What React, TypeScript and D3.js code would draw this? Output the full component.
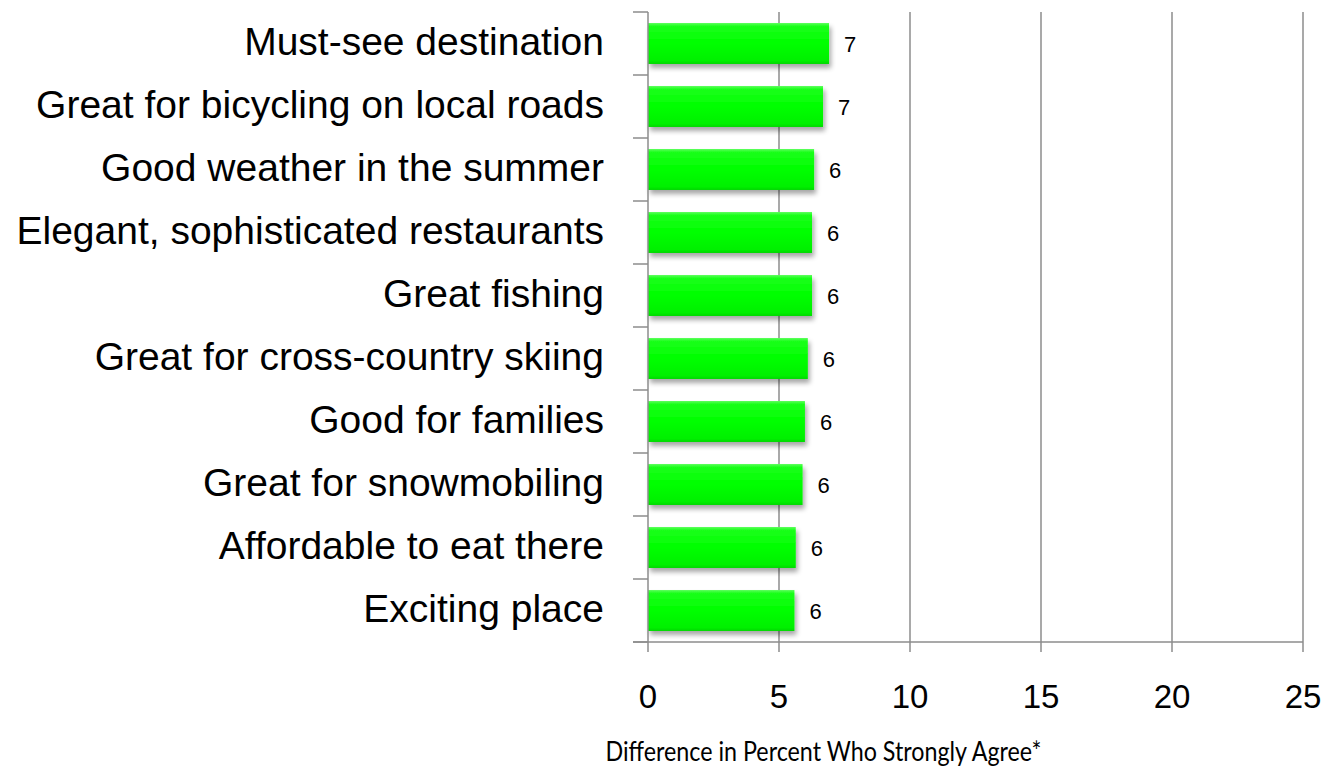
import React from "react";
import * as d3 from "d3";

const categories = [
  "Must-see destination",
  "Great for bicycling on local roads",
  "Good weather in the summer",
  "Elegant, sophisticated restaurants",
  "Great fishing",
  "Great for cross-country skiing",
  "Good for families",
  "Great for snowmobiling",
  "Affordable to eat there",
  "Exciting place",
];
const values = [6.91, 6.68, 6.34, 6.26, 6.26, 6.1, 5.99, 5.9, 5.64, 5.59];
const valueLabels = ["7", "7", "6", "6", "6", "6", "6", "6", "6", "6"];
const xTicks = [0, 5, 10, 15, 20, 25];
const axisTitle = "Difference in Percent Who Strongly Agree*";

const W = 1328;
const H = 770;
const left = 648;
const right = 1303;
const top = 12;
const bottom = 642;

export default function App() {
  const x = d3.scaleLinear().domain([0, 25]).range([left, right]);
  const y = d3
    .scaleBand<string>()
    .domain(categories)
    .range([top, bottom])
    .paddingInner(0.35)
    .paddingOuter(0.175);
  const step = y.step();
  const gridColor = "#8c8c8c";

  return (
    <svg
      width={W}
      height={H}
      style={{ position: "absolute", left: 0, top: 0 }}
      fontFamily="'Liberation Sans', Arial, sans-serif"
    >
      <defs>
        <linearGradient id="barGrad" x1="0" y1="0" x2="0" y2="1">
          <stop offset="0" stopColor="#5cff5c" />
          <stop offset="0.08" stopColor="#1aff1a" />
          <stop offset="0.5" stopColor="#00ff00" />
          <stop offset="0.92" stopColor="#00f000" />
          <stop offset="1" stopColor="#00d800" />
        </linearGradient>
        <filter id="shadow" x="-5%" y="-20%" width="115%" height="160%">
          <feGaussianBlur in="SourceAlpha" stdDeviation="2.5" />
          <feOffset dx="2" dy="4" result="ob" />
          <feComponentTransfer>
            <feFuncA type="linear" slope="0.35" />
          </feComponentTransfer>
          <feMerge>
            <feMergeNode />
            <feMergeNode in="SourceGraphic" />
          </feMerge>
        </filter>
      </defs>
      <rect width={W} height={H} fill="#fff" />
      {/* gridlines */}
      {xTicks.slice(1).map((t) => (
        <line
          key={"g" + t}
          x1={x(t)}
          x2={x(t)}
          y1={top}
          y2={bottom + 10}
          stroke={gridColor}
          strokeWidth={1.5}
        />
      ))}
      {/* bars */}
      {categories.map((c, i) => {
        const cy = y(c)! + y.bandwidth() / 2;
        return (
          <g key={c}>
            <rect
              x={x(0)}
              y={y(c)!}
              width={x(values[i]) - x(0)}
              height={y.bandwidth()}
              fill="url(#barGrad)"
              filter="url(#shadow)"
            />
            <text x={x(values[i]) + 15} y={cy + 8} fontSize={22} fill="#000">
              {valueLabels[i]}
            </text>
            <text x={604} y={cy + 11} textAnchor="end" fontSize={39} fill="#000">
              {c}
            </text>
          </g>
        );
      })}
      {/* y axis */}
      <line x1={left} x2={left} y1={top} y2={bottom + 10} stroke={gridColor} strokeWidth={1.5} />
      {d3.range(categories.length + 1).map((i) => (
        <line
          key={"yt" + i}
          x1={left - 15}
          x2={left}
          y1={top + i * step}
          y2={top + i * step}
          stroke={gridColor}
          strokeWidth={1.5}
        />
      ))}
      {/* x axis */}
      <line x1={left - 15} x2={right} y1={bottom} y2={bottom} stroke={gridColor} strokeWidth={1.5} />
      {xTicks.map((t) => (
        <text key={"xt" + t} x={x(t)} y={708} textAnchor="middle" fontSize={33} fill="#000">
          {t}
        </text>
      ))}
      <text
        x={823.5}
        y={761}
        textAnchor="middle"
        fontSize={27}
        fontFamily="Lato, 'Open Sans', sans-serif"
        textLength={436}
        lengthAdjust="spacingAndGlyphs"
        fill="#000"
      >
        {axisTitle}
      </text>
    </svg>
  );
}
